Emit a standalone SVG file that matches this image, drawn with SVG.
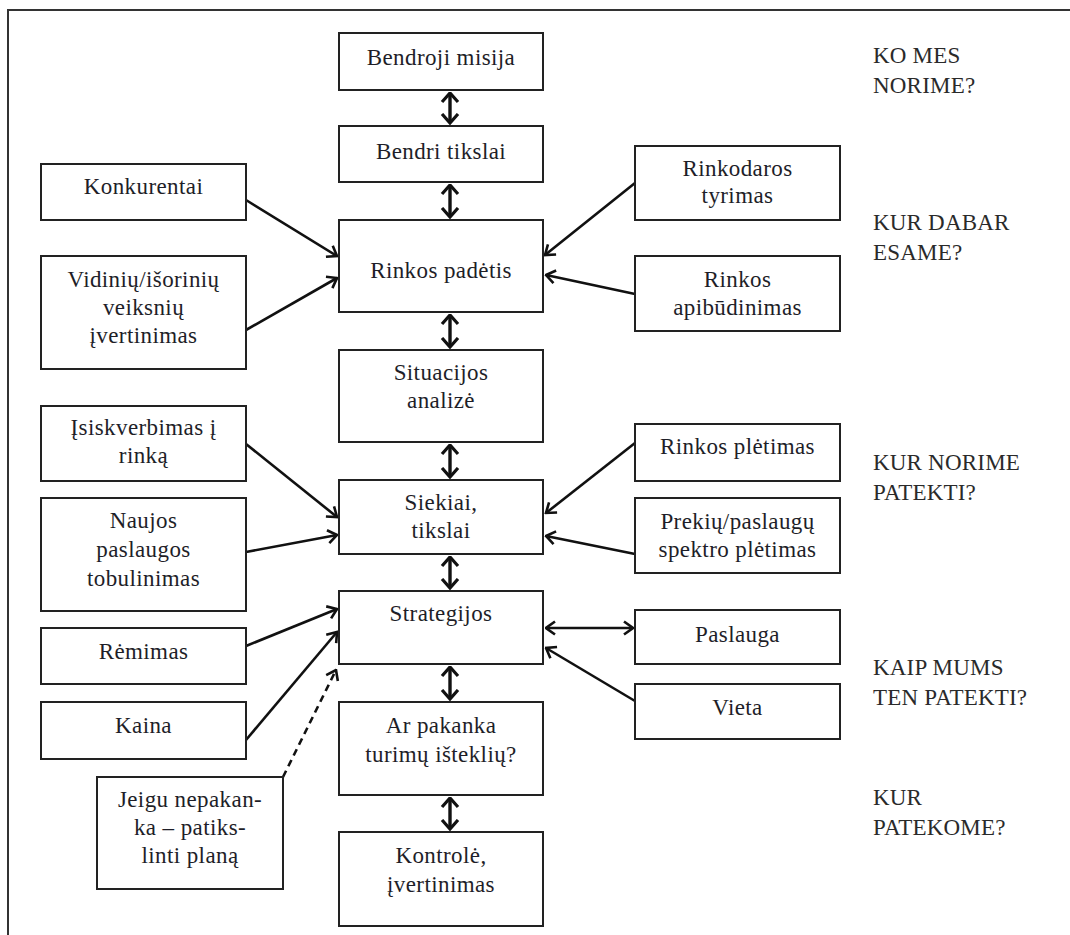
<svg xmlns="http://www.w3.org/2000/svg" width="1070" height="935" viewBox="0 0 1070 935">
<style>
.box{fill:#fff;stroke:#222;stroke-width:2}
.t{font-family:"Liberation Serif","Times New Roman",serif;font-size:23px;fill:#1e1e28;text-anchor:middle;letter-spacing:0.4px}
.lbl{font-family:"Liberation Serif","Times New Roman",serif;font-size:23px;fill:#2a2a2a;letter-spacing:0.2px}
.c{fill:none;stroke:#111;stroke-width:2.6}
.v{fill:none;stroke:#111;stroke-width:3.4}
.dash{stroke-dasharray:7 5}
</style>
<defs>
<marker id="ah" viewBox="0 0 12 16" refX="10.5" refY="8" markerWidth="12" markerHeight="16" markerUnits="userSpaceOnUse" orient="auto-start-reverse">
<path d="M1.5,1.5 L10.5,8 L1.5,14.5" fill="none" stroke="#111" stroke-width="2.6"/>
</marker>
<marker id="av" viewBox="0 0 12 20" refX="10.5" refY="10" markerWidth="12" markerHeight="20" markerUnits="userSpaceOnUse" orient="auto-start-reverse">
<path d="M1.5,2 L10.5,10 L1.5,18" fill="none" stroke="#111" stroke-width="3.2"/>
</marker>
</defs>
<rect width="1070" height="935" fill="#fff"/>
<path id="frame" d="M8,935 V10 H1070" fill="none" stroke="#333" stroke-width="2"/>

<g id="connectors">
<line class="v" x1="450" y1="93" x2="450" y2="123" marker-start="url(#av)" marker-end="url(#av)"/>
<line class="v" x1="450" y1="185" x2="450" y2="217" marker-start="url(#av)" marker-end="url(#av)"/>
<line class="v" x1="450" y1="315" x2="450" y2="347" marker-start="url(#av)" marker-end="url(#av)"/>
<line class="v" x1="450" y1="445" x2="450" y2="477" marker-start="url(#av)" marker-end="url(#av)"/>
<line class="v" x1="450" y1="557" x2="450" y2="588" marker-start="url(#av)" marker-end="url(#av)"/>
<line class="v" x1="450" y1="667" x2="450" y2="699" marker-start="url(#av)" marker-end="url(#av)"/>
<line class="v" x1="450" y1="798" x2="450" y2="829" marker-start="url(#av)" marker-end="url(#av)"/>
<line class="c" x1="246" y1="200" x2="337" y2="256" marker-end="url(#ah)"/>
<line class="c" x1="246" y1="330" x2="337" y2="278" marker-end="url(#ah)"/>
<line class="c" x1="635" y1="183" x2="545" y2="255" marker-end="url(#ah)"/>
<line class="c" x1="635" y1="294" x2="546" y2="275" marker-end="url(#ah)"/>
<line class="c" x1="246" y1="444" x2="337" y2="517" marker-end="url(#ah)"/>
<line class="c" x1="246" y1="552" x2="337" y2="535" marker-end="url(#ah)"/>
<line class="c" x1="635" y1="443" x2="546" y2="513" marker-end="url(#ah)"/>
<line class="c" x1="635" y1="554" x2="546" y2="536" marker-end="url(#ah)"/>
<line class="c" x1="246" y1="646" x2="337" y2="609" marker-end="url(#ah)"/>
<line class="c" x1="246" y1="740" x2="337" y2="632" marker-end="url(#ah)"/>
<line class="c dash" x1="283" y1="777" x2="336" y2="670" marker-end="url(#ah)"/>
<line class="c" x1="546" y1="628" x2="633" y2="628" marker-start="url(#ah)" marker-end="url(#ah)"/>
<line class="c" x1="635" y1="701" x2="546" y2="648" marker-end="url(#ah)"/>
</g>

<g id="n-bendroji"><rect class="box" x="339" y="33" width="204" height="57"/><text class="t" x="441" y="65">Bendroji misija</text></g>
<g id="n-bendri"><rect class="box" x="339" y="126" width="204" height="56"/><text class="t" x="441" y="159">Bendri tikslai</text></g>
<g id="n-rinkos-padetis"><rect class="box" x="339" y="220" width="204" height="92"/><text class="t" x="441" y="278">Rinkos padėtis</text></g>
<g id="n-situacijos"><rect class="box" x="339" y="350" width="204" height="92"/><text class="t" x="441" y="380">Situacijos</text><text class="t" x="441" y="408">analizė</text></g>
<g id="n-siekiai"><rect class="box" x="339" y="480" width="204" height="74"/><text class="t" x="441" y="510">Siekiai,</text><text class="t" x="441" y="538">tikslai</text></g>
<g id="n-strategijos"><rect class="box" x="339" y="591" width="204" height="73"/><text class="t" x="441" y="621">Strategijos</text></g>
<g id="n-ar-pakanka"><rect class="box" x="339" y="702" width="204" height="93"/><text class="t" x="441" y="733">Ar pakanka</text><text class="t" x="441" y="762">turimų išteklių?</text></g>
<g id="n-kontrole"><rect class="box" x="339" y="832" width="204" height="94"/><text class="t" x="441" y="863">Kontrolė,</text><text class="t" x="441" y="892">įvertinimas</text></g>

<g id="n-konkurentai"><rect class="box" x="41" y="164" width="205" height="56"/><text class="t" x="143.5" y="194">Konkurentai</text></g>
<g id="n-vidiniu"><rect class="box" x="41" y="256" width="205" height="113"/><text class="t" x="143.5" y="287">Vidinių/išorinių</text><text class="t" x="143.5" y="315">veiksnių</text><text class="t" x="143.5" y="343">įvertinimas</text></g>
<g id="n-isiskverbimas"><rect class="box" x="41" y="406" width="205" height="75"/><text class="t" x="143.5" y="435">Įsiskverbimas į</text><text class="t" x="143.5" y="463">rinką</text></g>
<g id="n-naujos"><rect class="box" x="41" y="498" width="205" height="113"/><text class="t" x="143.5" y="528">Naujos</text><text class="t" x="143.5" y="557">paslaugos</text><text class="t" x="143.5" y="586">tobulinimas</text></g>
<g id="n-remimas"><rect class="box" x="41" y="628" width="205" height="56"/><text class="t" x="143.5" y="659">Rėmimas</text></g>
<g id="n-kaina"><rect class="box" x="41" y="702" width="205" height="57"/><text class="t" x="143.5" y="733">Kaina</text></g>
<g id="n-jeigu"><rect class="box" x="97" y="777" width="186" height="112"/><text class="t" x="190" y="807">Jeigu nepakan-</text><text class="t" x="190" y="835">ka – patiks-</text><text class="t" x="190" y="863">linti planą</text></g>

<g id="n-rinkodaros"><rect class="box" x="635" y="146" width="205" height="74"/><text class="t" x="737.5" y="176">Rinkodaros</text><text class="t" x="737.5" y="203">tyrimas</text></g>
<g id="n-rinkos-apib"><rect class="box" x="635" y="256" width="205" height="75"/><text class="t" x="737.5" y="287">Rinkos</text><text class="t" x="737.5" y="315">apibūdinimas</text></g>
<g id="n-rinkos-pletimas"><rect class="box" x="635" y="424" width="205" height="57"/><text class="t" x="737.5" y="454">Rinkos plėtimas</text></g>
<g id="n-prekiu"><rect class="box" x="635" y="498" width="205" height="75"/><text class="t" x="737.5" y="529">Prekių/paslaugų</text><text class="t" x="737.5" y="557">spektro plėtimas</text></g>
<g id="n-paslauga"><rect class="box" x="635" y="610" width="205" height="54"/><text class="t" x="737.5" y="642">Paslauga</text></g>
<g id="n-vieta"><rect class="box" x="635" y="684" width="205" height="55"/><text class="t" x="737.5" y="715">Vieta</text></g>

<g id="labels">
<text class="lbl" x="873" y="63">KO MES</text><text class="lbl" x="873" y="93">NORIME?</text>
<text class="lbl" x="873" y="230">KUR DABAR</text><text class="lbl" x="873" y="260">ESAME?</text>
<text class="lbl" x="873" y="470">KUR NORIME</text><text class="lbl" x="873" y="500">PATEKTI?</text>
<text class="lbl" x="873" y="675">KAIP MUMS</text><text class="lbl" x="873" y="705">TEN PATEKTI?</text>
<text class="lbl" x="873" y="805">KUR</text><text class="lbl" x="873" y="835">PATEKOME?</text>
</g>
</svg>
